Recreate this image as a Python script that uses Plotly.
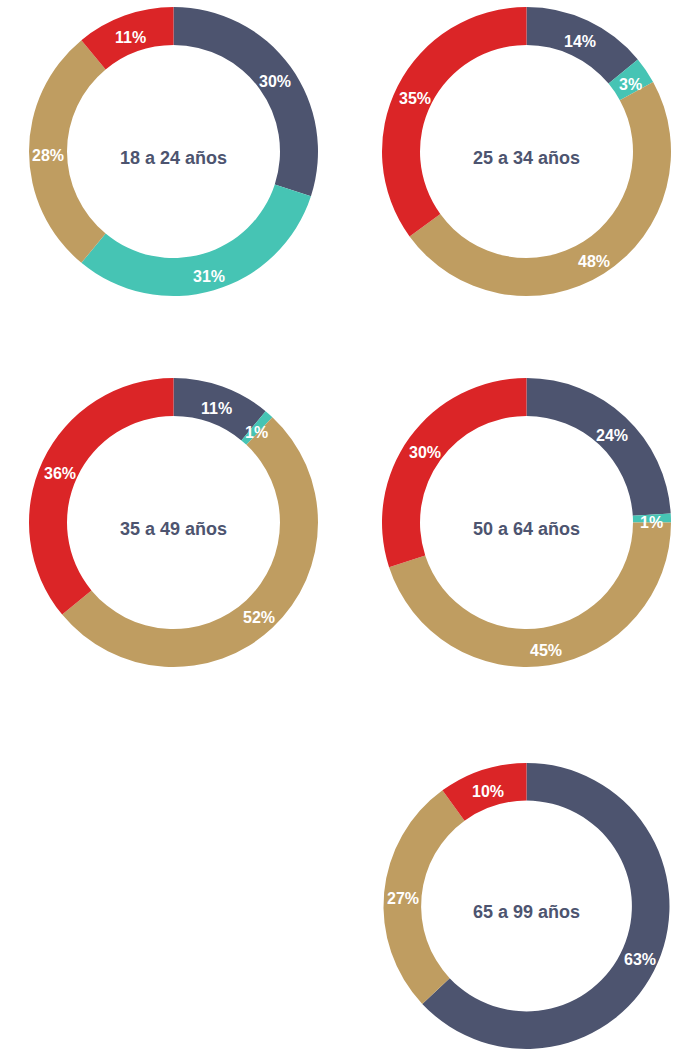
import math
import plotly.graph_objects as go

W, H = 677, 1049

groups = ["18 a 24 años", "25 a 34 años", "35 a 49 años", "50 a 64 años", "65 a 99 años"]
segments = ["Seg A", "Seg B", "Seg C", "Seg D"]
colors = ["#4d546f", "#46c4b4", "#bf9d61", "#db2527"]

v_18_24 = [30, 31, 28, 11]
v_25_34 = [14, 3, 48, 35]
v_35_49 = [11, 1, 52, 36]
v_50_64 = [24, 1, 45, 30]
v_65_99 = [63, 0, 27, 10]
all_values = [v_18_24, v_25_34, v_35_49, v_50_64, v_65_99]

# pixel boxes (left, top, right, bottom) for each donut
boxes = [
    (29, 7, 318, 296),
    (382, 7, 671, 296),
    (29, 378, 318, 667),
    (382, 378, 671, 667),
    (382, 763, 671, 1049),
]
HOLE = 0.737

FONT = "Liberation Sans Narrow, Arial Narrow, Liberation Sans, Arial, sans-serif"

fig = go.Figure()
annotations = []
for name, vals, (l, t, r, b) in zip(groups, all_values, boxes):
    dx = [l / W, r / W]
    dy = [1 - b / H, 1 - t / H]
    fig.add_trace(go.Pie(
        labels=segments,
        values=vals,
        textinfo="none",
        marker=dict(colors=colors, line=dict(width=0)),
        hole=HOLE,
        sort=False,
        direction="clockwise",
        rotation=0,
        domain=dict(x=dx, y=dy),
        hoverinfo="skip",
        showlegend=False,
    ))
    # centre of the drawn pie (plotly centres it in the domain, radius = half of the smaller side)
    cx = (l + r) / 2
    cy = (t + b) / 2
    R = min(r - l, b - t) / 2
    rm = R * (1 + HOLE) / 2
    total = sum(vals)
    acc = 0
    for v in vals:
        if v > 0:
            ang = (acc + v / 2) / total * 2 * math.pi
            px = cx + rm * math.sin(ang)
            py = cy - rm * math.cos(ang)
            annotations.append(dict(
                x=px / W, y=1 - py / H, xref="paper", yref="paper",
                text=f"<b>{v}%</b>", showarrow=False, yshift=-4,
                font=dict(family=FONT, size=16, color="white"),
                xanchor="center", yanchor="middle",
            ))
        acc += v
    annotations.append(dict(
        x=cx / W, y=1 - cy / H,
        xref="paper", yref="paper", text=f"<b>{name}</b>", showarrow=False,
        yshift=-6,
        font=dict(family=FONT, size=18, color="#4d546f"),
        xanchor="center", yanchor="middle",
    ))

fig.update_layout(
    width=W, height=H,
    margin=dict(l=0, r=0, t=0, b=0),
    paper_bgcolor="white", plot_bgcolor="white",
    annotations=annotations,
)

fig.write_html("out.html", config={"displayModeBar": False},
               post_script="document.body.style.margin='0';document.body.style.padding='0';")
